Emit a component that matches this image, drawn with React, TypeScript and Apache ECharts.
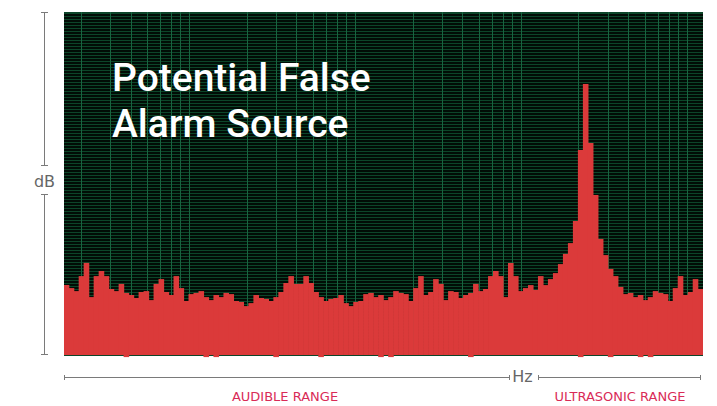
import React, { useEffect, useRef } from "react";
import * as echarts from "echarts";

// Spectrum bins (left to right) and their level in dB-like units
const bins: string[] = Array.from({ length: 128 }, (_, i) => String(i + 1));
const levels: number[] = [
  23.3, 22.3, 21.3, 26.3, 30.7, 19.3, 26.3, 28.0, 26.3, 22.0,
  21.3, 23.7, 20.7, 20.0, 19.0, 21.0, 21.3, 18.3, 23.7, 25.3,
  21.0, 20.0, 26.3, 22.3, 18.0, 20.3, 20.7, 21.3, 19.3, 18.3,
  20.0, 19.3, 20.7, 20.3, 18.0, 17.7, 16.3, 17.3, 20.0, 19.0,
  18.7, 18.0, 19.3, 21.0, 24.0, 26.3, 23.7, 23.7, 26.3, 24.0,
  21.0, 19.3, 18.0, 18.7, 19.0, 20.0, 17.3, 16.3, 17.7, 18.0,
  20.3, 20.7, 19.3, 20.0, 18.3, 19.3, 21.3, 20.7, 20.3, 18.0,
  22.3, 26.3, 20.0, 21.0, 25.3, 23.7, 18.3, 21.3, 21.0, 19.0,
  20.0, 20.7, 23.7, 21.3, 22.0, 26.3, 28.0, 26.3, 19.3, 30.7,
  26.3, 21.3, 22.3, 23.3, 21.7, 26.3, 23.3, 25.3, 27.3, 30.3,
  33.7, 37.3, 44.7, 68.3, 90.3, 70.7, 53.3, 38.7, 33.3, 28.7,
  26.3, 22.7, 20.3, 20.7, 19.3, 20.0, 18.3, 19.3, 21.3, 20.7,
  20.3, 18.0, 22.3, 26.3, 20.0, 21.0, 25.3, 22.0,
];

// Bins whose bar dips slightly below the baseline (1-based), and the dip
const dipBins: number[] = [13, 29, 31, 43, 52, 64, 66, 82, 104, 110, 116, 118];
const dipLevel = -0.7;

// Frequency gridlines (log spaced, Hz)
const gridFreqs: number[] = [
  20, 30, 40, 50, 60, 70, 80, 90,
  200, 300, 400, 500, 600, 700, 800, 900,
  2000, 3000, 4000, 5000, 6000, 7000, 8000, 9000,
  20000, 30000, 40000, 50000, 60000, 70000, 80000, 90000,
];

const titleLines: string[] = ["Potential False", "Alarm Source"];
const yName = "dB";
const xName = "Hz";
const rangeLabels: string[] = ["AUDIBLE RANGE", "ULTRASONIC RANGE"];

export default function App() {
  const ref = useRef<HTMLDivElement>(null);
  useEffect(() => {
    if (!ref.current) return;
    const chart = echarts.init(ref.current, undefined, { renderer: "svg" });
    const gray = "#7a7a7a";
    const red = "#d92b57";
    const barRed = "#db3a3a";
    const cap = (x1: number, y1: number, x2: number, y2: number) => ({
      type: "line",
      shape: { x1, y1, x2, y2 },
      style: { stroke: gray, lineWidth: 1 },
      silent: true,
    });
    const dips = bins.map((_, i) => (dipBins.includes(i + 1) ? dipLevel : "-"));
    chart.setOption({
      animation: false,
      grid: {
        left: 64,
        top: 12,
        width: 639,
        height: 343,
        show: true,
        backgroundColor: "#010d06",
        borderWidth: 0,
      },
      xAxis: [
        {
          type: "category",
          data: bins,
          show: false,
        },
        {
          type: "log",
          logBase: 10,
          min: 15.9,
          max: 112500,
          show: false,
        },
      ],
      yAxis: {
        type: "value",
        min: 0,
        max: 114.33,
        interval: 1,
        axisLine: { show: false },
        axisTick: { show: false },
        axisLabel: { show: false },
        splitLine: { show: true, lineStyle: { color: "#0c4529", width: 1 } },
      },
      series: [
        {
          type: "custom",
          xAxisIndex: 1,
          yAxisIndex: 0,
          z: 1,
          silent: true,
          data: gridFreqs.map((f) => [f, 0]),
          renderItem: (params: any, api: any) => {
            const x = Math.round(api.coord([api.value(0), 0])[0]) + 0.5;
            const cs = params.coordSys;
            return {
              type: "line",
              shape: { x1: x, y1: cs.y, x2: x, y2: cs.y + cs.height },
              style: { stroke: "#186440", lineWidth: 1 },
            };
          },
        },
        {
          type: "bar",
          xAxisIndex: 0,
          yAxisIndex: 0,
          z: 3,
          data: levels,
          barWidth: 5.6,
          barGap: "-100%",
          itemStyle: { color: barRed },
          silent: true,
        },
        {
          type: "bar",
          xAxisIndex: 0,
          yAxisIndex: 0,
          z: 3,
          data: dips,
          clip: false,
          barWidth: 5.6,
          barGap: "-100%",
          itemStyle: { color: barRed },
          silent: true,
        },
      ],
      graphic: [
        {
          type: "text",
          left: 112,
          top: 55,
          z: 10,
          style: {
            text: titleLines.join("\n"),
            fill: "#ffffff",
            fontFamily: "Roboto",
            fontWeight: 500,
            fontSize: 39,
            lineHeight: 46,
          },
        },
        // dB axis
        cap(44.5, 12, 44.5, 165),
        cap(41, 12.5, 48, 12.5),
        cap(41, 165.5, 48, 165.5),
        {
          type: "text",
          x: 44.5,
          y: 181,
          style: {
            text: yName,
            fill: "#666666",
            fontFamily: "DejaVu Sans",
            fontSize: 16,
            align: "center",
            verticalAlign: "middle",
          },
        },
        cap(44.5, 194, 44.5, 355),
        cap(41, 194.5, 48, 194.5),
        cap(41, 354.5, 48, 354.5),
        // Hz axis
        cap(64, 377.5, 509, 377.5),
        cap(64.5, 375, 64.5, 380),
        cap(509.5, 375, 509.5, 380),
        {
          type: "text",
          x: 522.5,
          y: 376.5,
          style: {
            text: xName,
            fill: "#666666",
            fontFamily: "DejaVu Sans",
            fontSize: 16,
            align: "center",
            verticalAlign: "middle",
          },
        },
        cap(538, 377.5, 701, 377.5),
        cap(538.5, 375, 538.5, 380),
        cap(700.5, 375, 700.5, 380),
        {
          type: "text",
          x: 285,
          y: 396,
          style: {
            text: rangeLabels[0],
            fill: red,
            fontFamily: "DejaVu Sans",
            fontSize: 13,
            align: "center",
            verticalAlign: "middle",
          },
        },
        {
          type: "text",
          x: 620,
          y: 396,
          style: {
            text: rangeLabels[1],
            fill: red,
            fontFamily: "DejaVu Sans",
            fontSize: 13,
            align: "center",
            verticalAlign: "middle",
          },
        },
      ],
    });
    return () => chart.dispose();
  }, []);
  return <div ref={ref} style={{ width: 717, height: 406, position: "absolute", left: 0, top: 0 }} />;
}
